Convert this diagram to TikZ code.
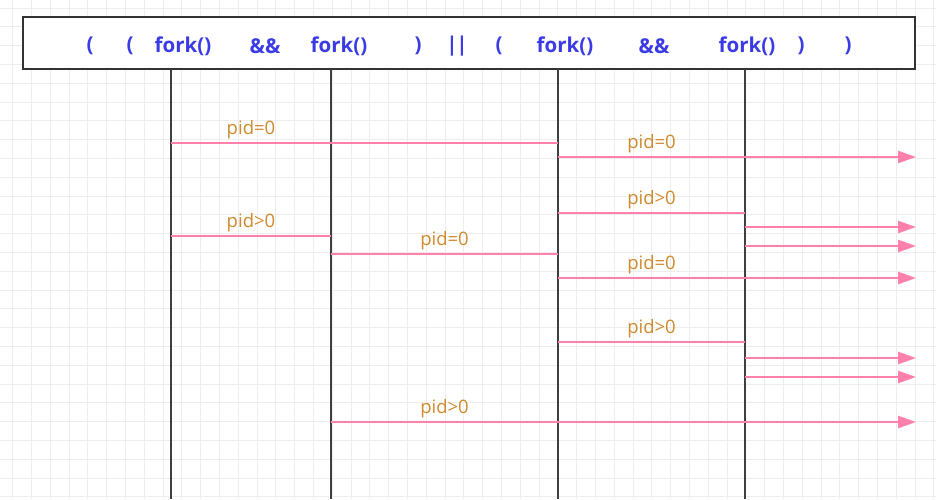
\documentclass[tikz,border=0pt]{standalone}
\usepackage{fontspec}
\setmainfont{Open Sans}
\usetikzlibrary{arrows.meta,positioning}
\definecolor{GridGray}{HTML}{EDEDED}
\definecolor{Frame}{HTML}{333333}
\definecolor{Life}{HTML}{3F3F3F}
\definecolor{Ink}{HTML}{3B3BE6}
\definecolor{Pink}{HTML}{FF80AB}
\definecolor{Ochre}{HTML}{CF8A2E}

\begin{document}
\begin{tikzpicture}[
  x=1pt,y=-1pt,
  gridline/.style={draw=GridGray,line width=0.9pt},
  hdrbox/.style={draw=Frame,line width=2.2pt,fill=white,minimum width=892pt,minimum height=52pt,inner sep=0pt},
  token/.style={text=Ink,font=\fontsize{20.5}{24}\selectfont\bfseries,inner sep=0pt},
  lifeline/.style={draw=Life,line width=2.2pt},
  flow/.style={draw=Pink,line width=2.4pt},
  fork/.style={flow,-{Triangle[length=18pt,width=12pt]}},
  lbl/.style={text=Ochre,font=\fontsize{18.5}{22}\selectfont,above=3pt,inner sep=0pt}
]
\useasboundingbox (0,0) rectangle (936,499);
\fill[white] (0,0) rectangle (936,499);
% background grid
\foreach \i in {0,...,49}
  \draw[gridline] ({12.7+18.8*\i},0) -- ({12.7+18.8*\i},499);
\foreach \j in {0,...,26}
  \draw[gridline] (0,{8.1+18.8*\j}) -- (936,{8.1+18.8*\j});

% expression header
\node[hdrbox] (hdr) at (469,43) {};
\foreach \x/\txt [count=\k] in {90/(,130/(,183/fork(),265/\&\&,339/fork(),418/),457/|\kern-1.5pt|,
    499/(,565/fork(),654/\&\&,747/fork(),801/),848/)}
  \node[token] (tk\k) at (\x,46) {\txt};

% process lifelines
\foreach \x [count=\k] in {171,331,558,745} {
  \coordinate (top\k) at (\x,69);
  \coordinate (bot\k) at (\x,499);
}
\foreach \k in {1,...,4}
  \draw[lifeline] (top\k) -- (bot\k);

% end points of the branches
\foreach \n/\x/\y in {a1/171/143,a2/331/143,a3/558/143,
    b1/558/157,b2/745/157,b3/916/157,
    c1/558/213,c2/745/213,
    d1/745/227,d2/916/227,e1/745/246,e2/916/246,
    f1/171/236,f2/331/236,
    g1/331/254,g2/558/254,
    h1/558/278,h2/745/278,h3/916/278,
    i1/558/342,i2/745/342,
    j1/745/358,j2/916/358,k1/745/377,k2/916/377,
    m1/331/422,m2/558/422,m3/916/422}
  \coordinate (\n) at (\x,\y);

\draw[flow] (a1) -- node[lbl] {pid=0} (a2) -- (a3);
\draw[fork] (b1) -- node[lbl] {pid=0} (b2) -- (b3);
\draw[flow] (c1) -- node[lbl] {pid>0} (c2);
\draw[fork] (d1) -- (d2);
\draw[fork] (e1) -- (e2);
\draw[flow] (f1) -- node[lbl] {pid>0} (f2);
\draw[flow] (g1) -- node[lbl] {pid=0} (g2);
\draw[fork] (h1) -- node[lbl] {pid=0} (h2) -- (h3);
\draw[flow] (i1) -- node[lbl] {pid>0} (i2);
\draw[fork] (j1) -- (j2);
\draw[fork] (k1) -- (k2);
\draw[fork] (m1) -- node[lbl] {pid>0} (m2) -- (m3);
\end{tikzpicture}
\end{document}
